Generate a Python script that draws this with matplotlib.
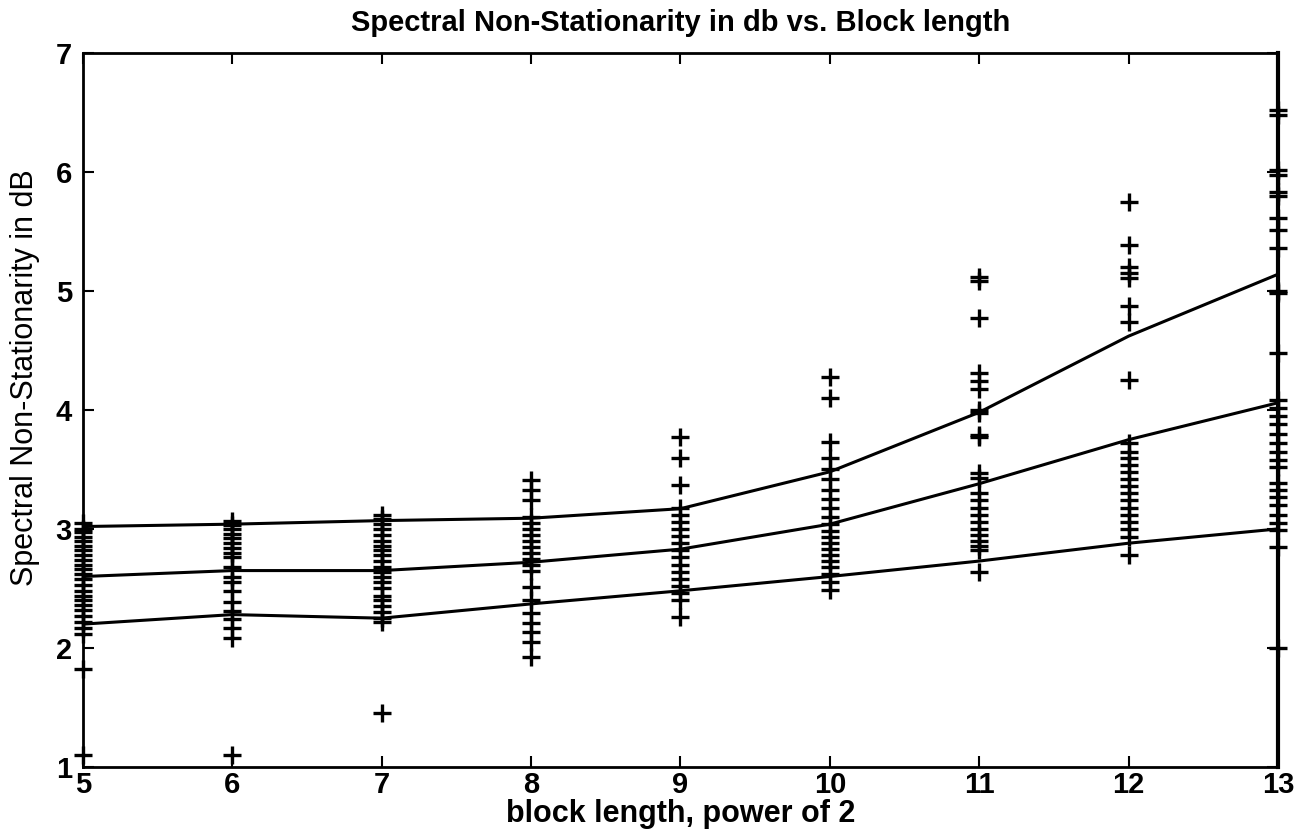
import matplotlib
matplotlib.use("Agg")
import matplotlib.pyplot as plt

plt.rcParams['font.family'] = ['Liberation Sans', 'DejaVu Sans']

block_pow = [5, 6, 7, 8, 9, 10, 11, 12, 13]

upper = [3.02, 3.04, 3.07, 3.09, 3.17, 3.48, 3.98, 4.62, 5.14]
middle = [2.60, 2.65, 2.65, 2.72, 2.83, 3.04, 3.38, 3.75, 4.06]
lower = [2.20, 2.28, 2.25, 2.37, 2.48, 2.60, 2.73, 2.88, 3.00]

# individual measurements for each block length
pts = {
    5: [3.05, 3.0, 2.97, 2.93, 2.9, 2.86, 2.82, 2.78, 2.74, 2.7, 2.66, 2.62, 2.58,
        2.53, 2.48, 2.44, 2.4, 2.36, 2.32, 2.27, 2.22, 2.17, 2.12, 1.82, 1.1],
    6: [3.07, 3.03, 3.0, 2.96, 2.92, 2.88, 2.84, 2.8, 2.76, 2.68, 2.6, 2.55,
        2.48, 2.39, 2.31, 2.24, 2.17, 2.08, 1.1],
    7: [3.12, 3.08, 3.04, 3.0, 2.95, 2.9, 2.86, 2.82, 2.78, 2.73, 2.68, 2.64,
        2.6, 2.55, 2.5, 2.44, 2.4, 2.35, 2.3, 2.25, 2.22, 1.45],
    8: [3.41, 3.33, 3.24, 3.1, 3.05, 3.0, 2.95, 2.9, 2.85, 2.8, 2.75, 2.7,
        2.65, 2.51, 2.4, 2.29, 2.21, 2.13, 2.05, 1.92],
    9: [3.77, 3.6, 3.37, 3.18, 3.12, 3.06, 3.0, 2.94, 2.88, 2.82, 2.76, 2.7,
        2.64, 2.58, 2.52, 2.46, 2.4, 2.26],
    10: [4.28, 4.1, 3.73, 3.6, 3.5, 3.42, 3.33, 3.25, 3.18, 3.1, 3.04, 2.98,
         2.93, 2.88, 2.83, 2.78, 2.73, 2.68, 2.62, 2.55, 2.49],
    11: [5.12, 5.08, 4.77, 4.31, 4.24, 4.18, 4.0, 3.97, 3.79, 3.77, 3.47, 3.43,
         3.3, 3.24, 3.18, 3.12, 3.06, 3.0, 2.95, 2.9, 2.86, 2.82, 2.64],
    12: [5.75, 5.39, 5.2, 5.15, 5.11, 4.87, 4.74, 4.25, 3.72, 3.65, 3.6, 3.54,
         3.48, 3.42, 3.36, 3.3, 3.24, 3.18, 3.12, 3.06, 3.0, 2.93, 2.78],
    13: [6.52, 6.48, 6.02, 5.97, 5.83, 5.8, 5.61, 5.51, 5.36, 5.0, 4.98, 4.48,
         4.08, 4.02, 3.95, 3.88, 3.8, 3.72, 3.65, 3.58, 3.52, 3.39, 3.33, 3.27,
         3.2, 3.12, 3.05, 2.99, 2.85, 2.0],
}

fig = plt.figure(figsize=(13.01, 8.4), dpi=100)
ax = fig.add_axes([0.0638, 0.087, 0.9185, 0.85])

for x, ys in pts.items():
    ax.plot([x] * len(ys), ys, linestyle='none', marker='+', color='black',
            markersize=13, markeredgewidth=2.4, clip_on=False)

for series in (upper, middle, lower):
    ax.plot(block_pow, series, color='black', linewidth=2.2)

ax.set_xlim(5, 13)
ax.set_ylim(1, 7)
ax.set_xticks(block_pow)
ax.set_yticks([1, 2, 3, 4, 5, 6, 7])
ax.tick_params(direction='in', top=True, right=True, length=8, width=1.5,
               labelsize=21, pad=3)
ax.tick_params(axis='y', pad=8)
for lab in ax.get_xticklabels() + ax.get_yticklabels():
    lab.set_fontweight('bold')
for s in ax.spines.values():
    s.set_linewidth(2)
ax.spines['right'].set_linewidth(3)

ax.set_title("Spectral Non-Stationarity in db vs. Block length",
             fontsize=21, fontweight='bold', pad=16)
ax.set_xlabel("block length, power of 2", fontsize=22, fontweight='bold',
              labelpad=0)
ax.set_ylabel("Spectral Non-Stationarity in dB", fontsize=22)
ax.yaxis.set_label_coords(-0.036, 0.545)

fig.savefig("out.png", dpi=100)
